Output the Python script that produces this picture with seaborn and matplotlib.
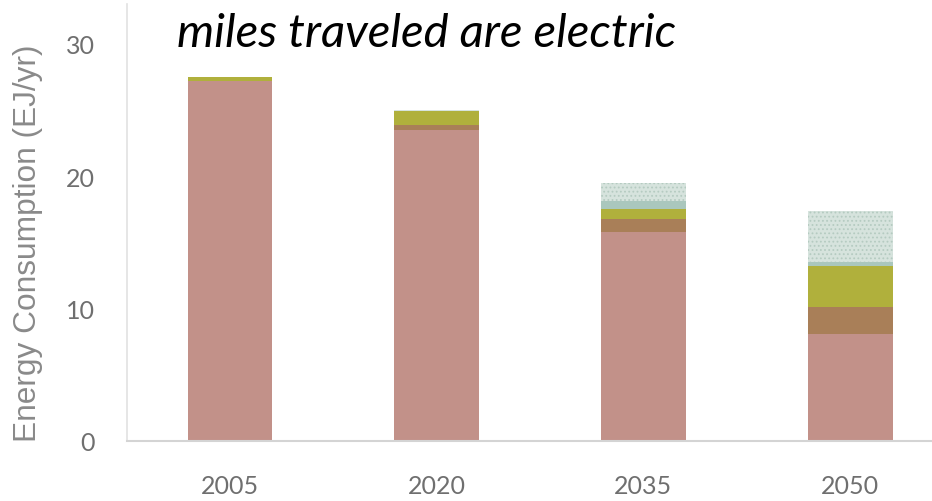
import matplotlib
matplotlib.use("Agg")
import matplotlib.pyplot as plt
import seaborn as sns
import pandas as pd
import numpy as np

# Light-duty vehicle energy use by fuel (EJ/yr)
years = ["2005", "2020", "2035", "2050"]
gasoline = [27.2, 23.5, 15.8, 8.1]
diesel = [0.0, 0.4, 1.0, 2.0]
biofuels = [0.3, 1.0, 0.7, 3.1]
hydrogen = [0.0, 0.0, 0.6, 0.3]
electricity = [0.0, 0.1, 1.4, 3.9]

layers = [
    ("Gasoline", gasoline, "#c29189", None),
    ("Diesel", diesel, "#a97f58", None),
    ("Biofuels", biofuels, "#b0b03c", None),
    ("Hydrogen", hydrogen, "#aac7bd", None),
    ("Electricity", electricity, "#d6e3dd", "...."),
]

sns.set_theme(style="white")
plt.rcParams["hatch.linewidth"] = 0.8
plt.rcParams["hatch.color"] = "#b5cbc1"

fig = plt.figure(figsize=(9.32, 5.02), dpi=100)
ax = fig.add_axes([127 / 932, 60 / 502, 805 / 932, 437 / 502])

# Cumulative totals, drawn from the top layer down so each stack overlays the next
cum = np.cumsum([np.array(v, dtype=float) for _, v, _, _ in layers], axis=0)
for i in range(len(layers) - 1, -1, -1):
    name, _, color, hatch = layers[i]
    df = pd.DataFrame({"year": years, "value": cum[i]})
    sns.barplot(data=df, x="year", y="value", color=color, width=0.41,
                saturation=1, ax=ax, linewidth=0,
                edgecolor=plt.rcParams["hatch.color"] if hatch else color)
    if hatch:
        for p in ax.patches:
            p.set_hatch(hatch)

ax.set_xlim(-0.498, 3.396)
ax.set_ylim(0, 33)
ax.set_yticks([0, 10, 20, 30])
ax.set_xlabel("")
ax.set_ylabel("Energy Consumption (EJ/yr)", fontsize=22.8, color="#8a8a8a",
              family="Liberation Sans")
ax.yaxis.set_label_coords(-0.104, 0.455)
ax.tick_params(axis="both", length=0, labelsize=18, labelcolor="#6f6f6f")
ax.tick_params(axis="y", pad=23)
ax.tick_params(axis="x", pad=24)
for lab in ax.get_xticklabels() + ax.get_yticklabels():
    lab.set_family("Lato")

for side in ("top", "right"):
    ax.spines[side].set_visible(False)
ax.spines["left"].set_color("#e2e2e2")
ax.spines["left"].set_linewidth(1.2)
ax.spines["bottom"].set_color("#d4d4d4")
ax.spines["bottom"].set_linewidth(1.5)

fig.text(177 / 932, 1 - 47 / 502, "miles traveled are electric", fontsize=34,
         style="italic", family="Lato", color="black", ha="left", va="baseline")

fig.savefig("out.png", dpi=100)
